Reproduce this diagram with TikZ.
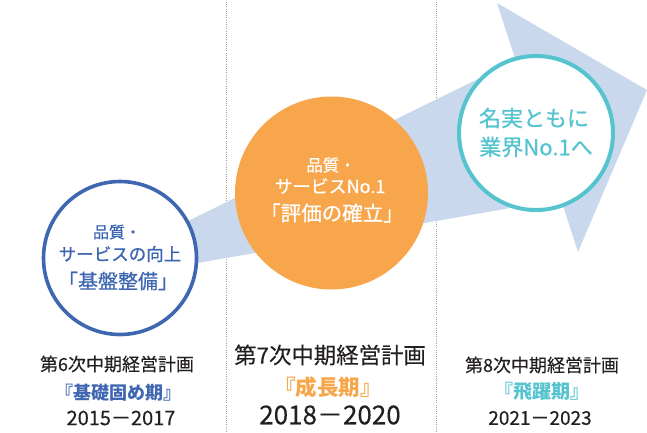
\documentclass[tikz,border=0pt]{standalone}
\usepackage{fontspec}
\setmainfont{Noto Sans CJK JP}
\newfontfamily\jp{Noto Sans CJK JP}
\newfontfamily\jpm[FakeBold=0.7]{Noto Sans CJK JP}
\newfontfamily\jpr[FakeBold=0.3]{Noto Sans CJK JP}
\definecolor{cblue}{HTML}{3E66B1}
\definecolor{corange}{HTML}{F7A64B}
\definecolor{cteal}{HTML}{55C4CF}
\definecolor{cband}{HTML}{CAD8EE}
\definecolor{ctext}{HTML}{231F20}
\definecolor{cdot}{HTML}{A0A0A0}
\newcommand{\fs}[1]{\fontsize{#1}{#1}\selectfont}
\tikzset{
  ring/.style={circle, inner sep=0pt, fill=white},
  lbl/.style={inner sep=0pt, anchor=center, font=\jp},
  sep/.style={cdot, line width=1pt, dash pattern=on 1pt off 1.2pt},
}
\begin{document}
\begin{tikzpicture}[x=1pt,y=-1pt]
\useasboundingbox (0,0) rectangle (647,432);
% separators
\coordinate (s1t) at (226,2); \coordinate (s1b) at (226,432);
\coordinate (s2t) at (436,2); \coordinate (s2b) at (436,432);
\draw[sep] (s1t) -- (s1b);
\draw[sep] (s2t) -- (s2b);
% band arrow
\fill[cband] (150,239.6) -- (515.7,60.5) -- (497,3) -- (647,90) -- (578,252) -- (560.8,199.1) -- (150,271.4) -- cycle;
% circles
\node[ring, draw=cblue, line width=3.6pt, minimum size=153pt] (c1) at (120,258) {};
\node[circle, inner sep=0pt, fill=corange, minimum size=193pt] (c2) at (331.5,193) {};
\node[ring, draw=cteal, line width=4pt, minimum size=154pt] (c3) at (536,133) {};
% blue circle text
\node[lbl, text=cblue, font=\jpm\fs{16}] (b1) at (117,232) {品質・};
\node[lbl, text=cblue, font=\jpm\fs{17.5}] (b2) at (120,254) {サービスの向上};
\node[lbl, text=cblue, font=\jpm\fs{20}] (b3) at (118,281) {「基盤整備」};
% orange circle text
\node[lbl, text=white, font=\jpm\fs{16.5}] (o1) at (331,165) {品質・};
\node[lbl, text=white, font=\jpm\fs{18}] (o2) at (330,186) {サービスNo.1};
\node[lbl, text=white, font=\jpm\fs{20.5}] (o3) at (332,213) {「評価の確立」};
% teal circle text
\node[lbl, text=cteal, font=\jpm\fs{22}] (t1) at (534,118) {名実ともに};
\node[lbl, text=cteal, font=\jpm\fs{22}] (t2) at (536,147) {業界No.1へ};
% bottom labels
\node[lbl, text=ctext, font=\jpr\fs{18}] (p1) at (117,364) {第6次中期経営計画};
\node[lbl, text=cblue, font=\jp\bfseries\fs{18}] (n1) at (118,393) {『基礎固め期』};
\node[lbl, text=ctext, font=\jpr\fs{20}] (y1) at (121,418) {2015－2017};
\node[lbl, text=ctext, font=\jpr\fs{22.4}] (p2) at (330,355) {第7次中期経営計画};
\node[lbl, text=corange, font=\jp\bfseries\fs{21.5}] (n2) at (328,387) {『成長期』};
\node[lbl, text=ctext, font=\jpr\fs{26}] (y2) at (330,415) {2018－2020};
\node[lbl, text=ctext, font=\jpr\fs{18}] (p3) at (542,365) {第8次中期経営計画};
\node[lbl, text=cteal, font=\jp\bfseries\fs{19}] (n3) at (542,391) {『飛躍期』};
\node[lbl, text=ctext, font=\jpr\fs{19}] (y3) at (540,418) {2021－2023};
\end{tikzpicture}
\end{document}
